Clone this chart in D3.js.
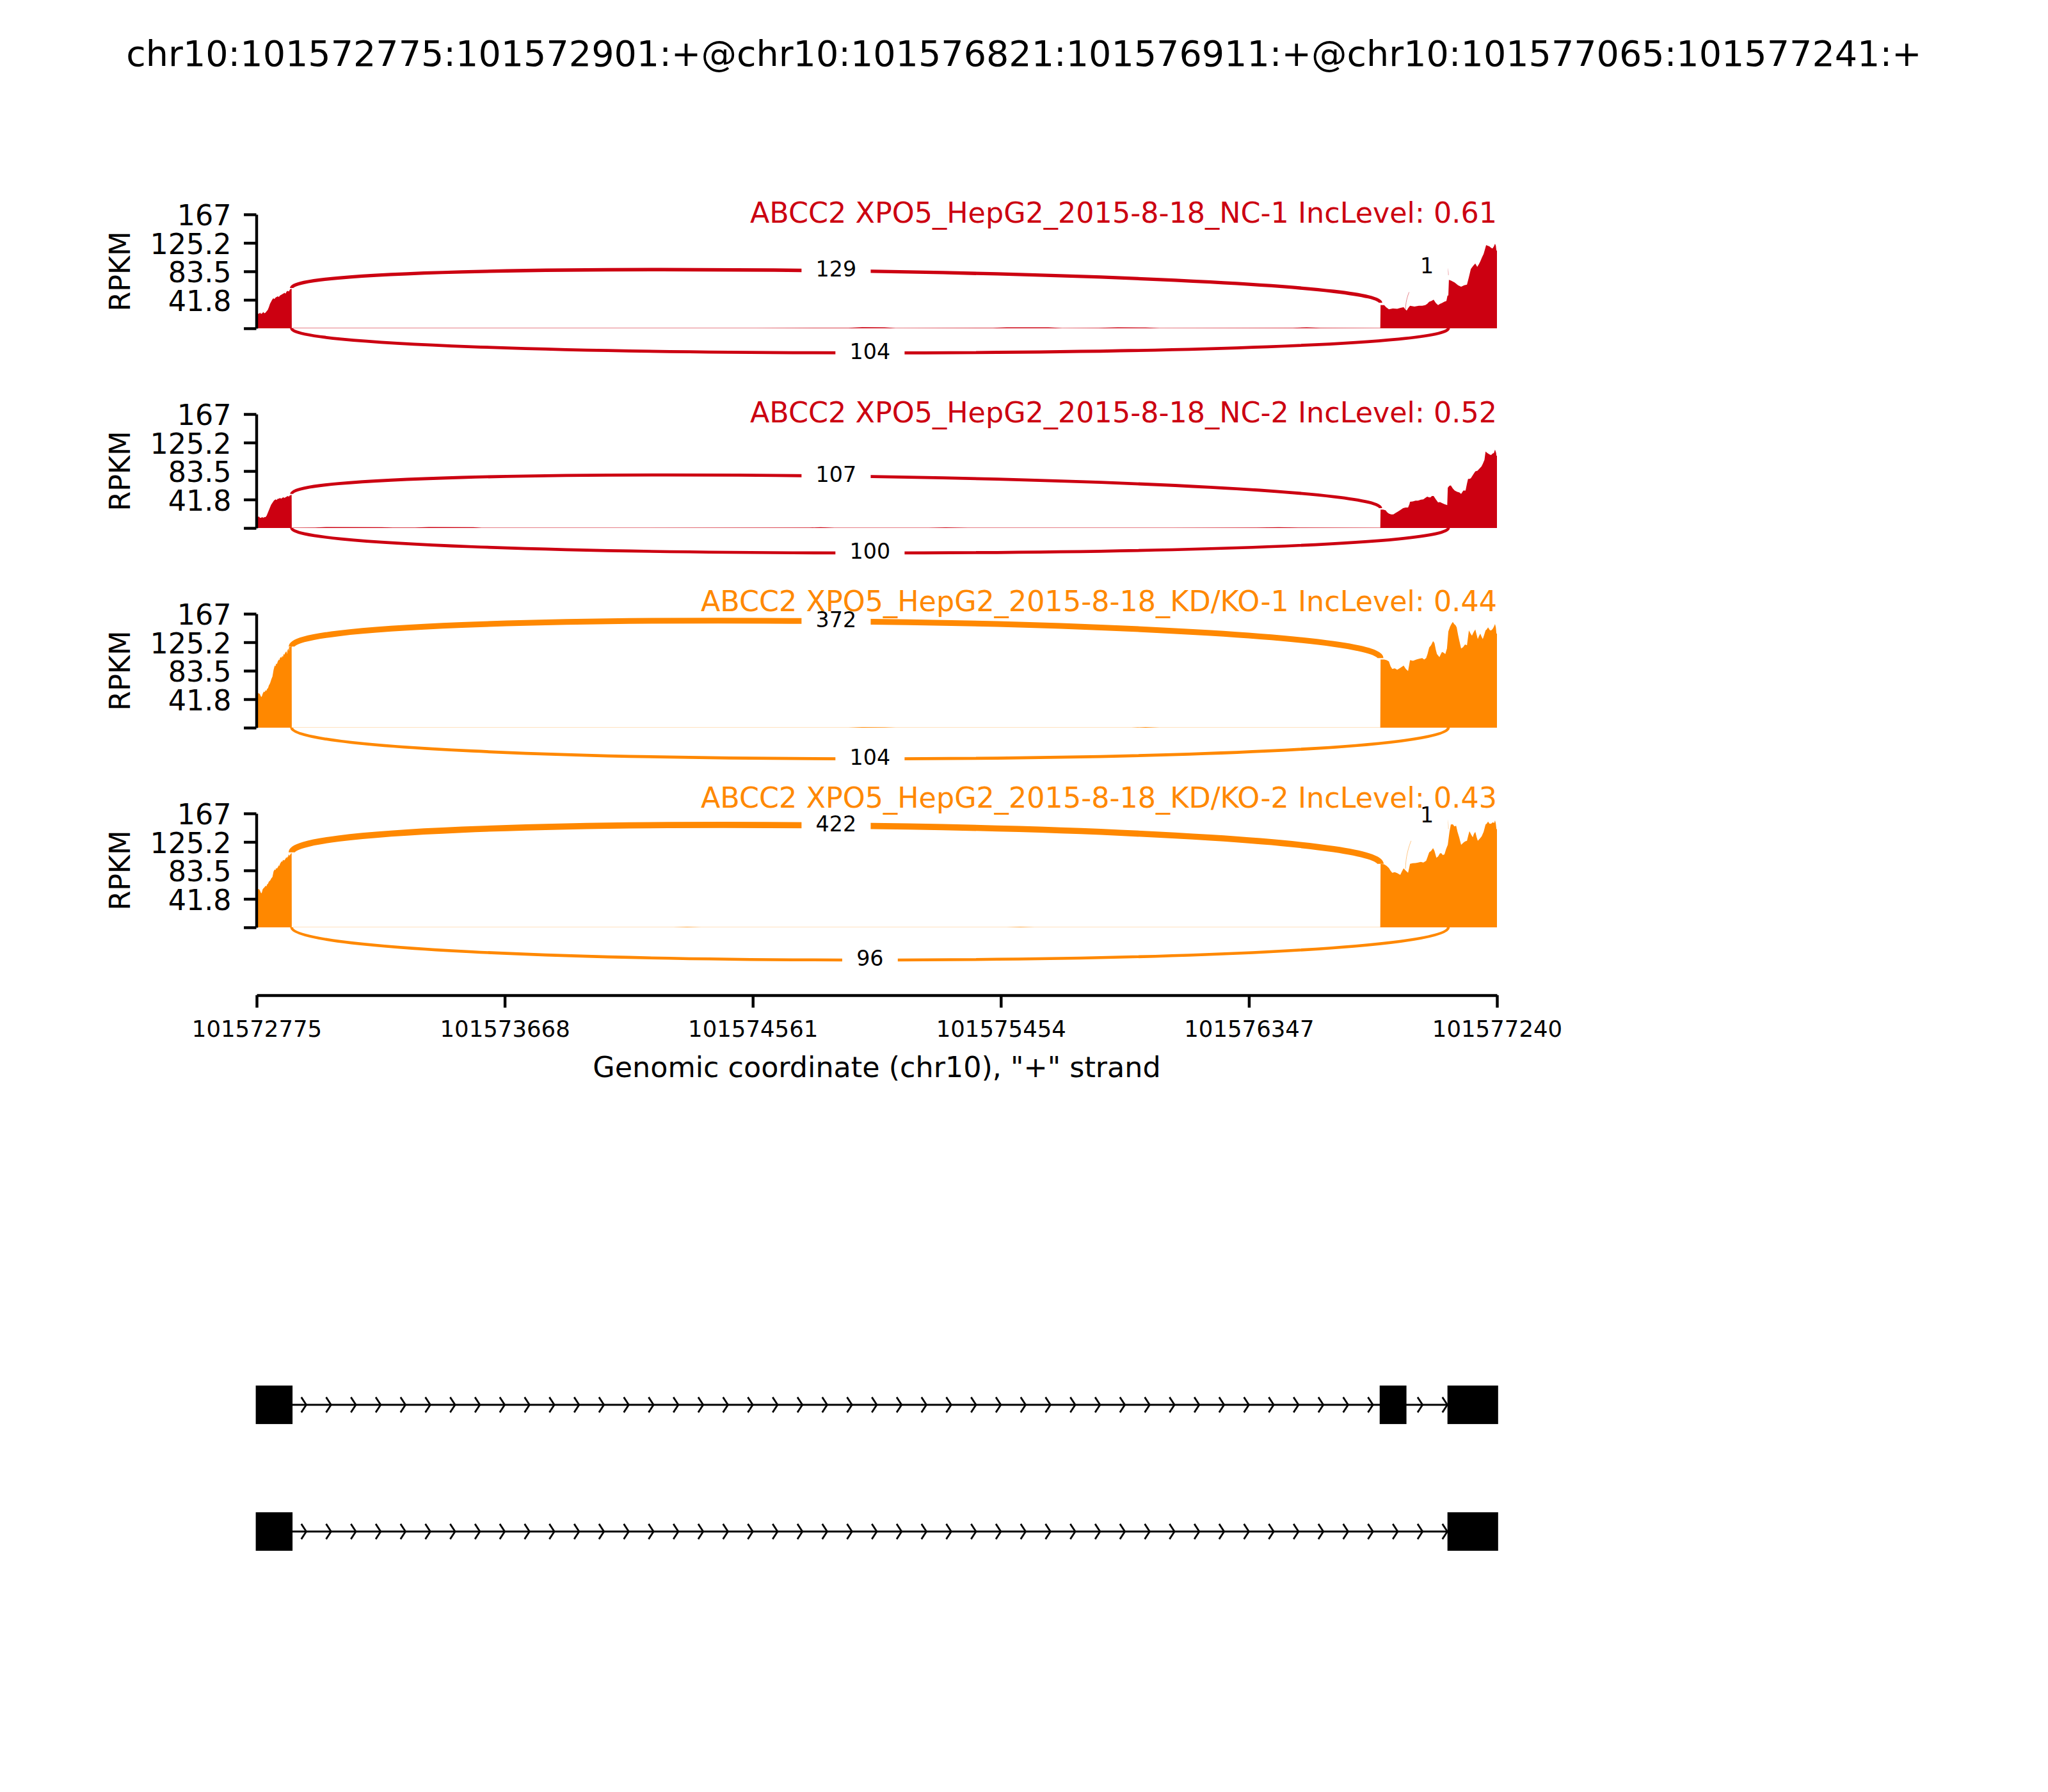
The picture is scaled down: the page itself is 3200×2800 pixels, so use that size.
<!DOCTYPE html>
<html><head><meta charset="utf-8">
<script src="https://cdn.jsdelivr.net/npm/d3@7"></script>
<style>html,body{margin:0;padding:0;background:#fff;} svg{display:block;font-family:"DejaVu Sans";}</style>
</head><body><svg id="c" width="3200" height="2800"></svg>
<script>
// ---------------- DATA ----------------
const eventTitle = "chr10:101572775:101572901:+@chr10:101576821:101576911:+@chr10:101577065:101577241:+";
const xAxisLabel = 'Genomic coordinate (chr10), "+" strand';
const regionStart = 101572775, regionEnd = 101577240;
const sampleNames = ["ABCC2 XPO5_HepG2_2015-8-18_NC-1", "ABCC2 XPO5_HepG2_2015-8-18_NC-2",
                     "ABCC2 XPO5_HepG2_2015-8-18_KD/KO-1", "ABCC2 XPO5_HepG2_2015-8-18_KD/KO-2"];
const incLevels = [0.61, 0.52, 0.44, 0.43];
const sampleGroups = ["NC", "NC", "KD", "KD"];
const yMax = 167;
const yTickValues = [0, 41.75, 83.5, 125.25, 167];
const yTickLabels = ["", "41.8", "83.5", "125.2", "167"];
const yMins = [-64, -65, -81, -85];           // lower y bound of each sample (sets arc height)
const xTickValues = [101572775, 101573668, 101574561, 101575454, 101576347, 101577240];
const isoform1Exons = [[101572775, 101572901], [101576821, 101576911], [101577065, 101577241]];
const isoform2Exons = [[101572775, 101572901], [101577065, 101577241]];

// coverage: [bp offset from regionStart, RPKM]
const covNC1 = [[0,20],[4,22],[8,21],[12,23],[16,21],[20,22],[24,24],[28,22],[32,23],[36,25],[40,27],[44,31],[48,36],[52,39],[56,42],[60,44],[64,43],[68,45],[72,46],[76,47],[80,46],[84,48],[88,49],[92,50],[96,51],[100,52],[104,51],[108,54],[112,55],[116,54],[120,57],[124,58],[126,58],
  [126.5,0.5],[600,0.4],[1200,0.5],[1800,0.5],[2130,0.8],[2180,1.6],[2260,1.4],[2300,0.5],[2650,0.8],[2700,1.5],[2850,1.3],[2900,0.5],[3030,0.7],[3100,1.3],[3200,1.1],[3250,0.5],[3730,0.8],[3780,1.3],[3830,0.6],[4045,0.5],
  [4046,34],[4059,34],[4066,31],[4076,28],[4090,29],[4106,28.5],[4118,30],[4129,31],[4135,28],[4140,26],[4146,30],[4152,33],[4168,32],[4184,33],[4196,33],[4207,34],[4214,36],[4221,39],[4229,40],[4237,42],[4245,37],[4253,34],[4260,36],[4267,37],[4275,39],[4283,40],[4287,48],[4290,48],[4292,71],[4300,70],[4313,67],[4325,63],[4336,61],[4347,63],[4357,64],[4364,75],[4371,87],[4380,92],[4387,95],[4394,90],[4400,94],[4405,98],[4411,104],[4417,109],[4422,116],[4426,122],[4432,121],[4438,120],[4444,118],[4449,117],[4454,120],[4458,124],[4461,121],[4463,114],[4465,114]];
const covNC2 = [[0,17],[4,16],[8,17],[12,15],[16,15],[20,16],[24,15],[28,16],[32,16],[36,18],[40,22],[44,26],[48,30],[52,34],[57,37],[62,40],[68,42],[72,41],[76,43],[80,43],[84,44],[88,43],[92,44],[96,45],[100,44],[104,45],[108,46],[112,47],[116,46],[120,48],[124,48],[126,49],
  [126.5,0.5],[210,0.6],[250,1.3],[450,1.2],[490,0.6],[570,0.6],[620,1.3],[780,1.2],[810,0.5],[1300,0.4],[1990,0.6],[2030,1.2],[2080,0.5],[2420,0.5],[2480,1.0],[2560,0.5],[3300,0.4],[3600,0.6],[3680,1.2],[3750,0.6],[4045,0.5],
  [4046,27],[4055,27],[4064,26],[4070,23],[4076,21],[4084,20],[4092,20],[4100,22],[4106,23.5],[4116,26],[4127,29],[4136,30],[4145,30],[4150,35],[4152,38.5],[4162,39],[4172,40],[4181,40],[4191,41.6],[4200,42],[4207,44],[4214,46],[4220,45],[4225,44.7],[4231,47],[4237,47],[4245,42],[4253,37.5],[4260,38],[4267,36.6],[4276,35],[4286,33.5],[4288,59],[4294,62],[4299,62.5],[4306,58],[4313,55],[4322,53],[4330,52],[4336,50],[4344,55],[4352,55],[4357,65],[4361,72],[4366,72],[4371,73],[4379,78],[4387,83],[4395,84],[4403,87.5],[4409,90],[4414,94],[4420,100],[4424,112],[4430,110],[4438,108],[4444,107],[4449,109],[4454,110],[4458,115],[4462,110],[4463,106],[4465,106]];
const covKD1 = [[0,49],[5,51],[8,50],[11,50],[15,46],[18,45],[22,50],[26,53],[29,52],[32,55],[35,54],[38,57],[41,58],[44,62],[47,64],[49,66],[53,71],[57,75],[61,85],[65,91],[68,90],[70,94],[73,93],[76,97],[80,100],[82,99],[84,102],[88,104],[90,102],[92,105],[95,104],[97,108],[100,107],[103,110],[107,112],[109,108],[111,113],[114,116],[116,112],[117,119],[121,118],[124,121],[126,120],
  [126.5,0.3],[2130,0.3],[2180,0.9],[2260,0.8],[2300,0.3],[3150,0.3],[3200,0.9],[3250,0.3],[4045,0.3],
  [4046,100],[4059,100],[4068,99],[4076,97],[4082,90],[4088,86],[4097,87],[4106,85],[4118,88],[4129,91],[4137,86],[4145,83],[4149,92],[4152,99],[4163,98],[4175,100],[4185,101],[4196,102],[4203,100],[4210,102],[4215,108],[4221,117.5],[4228,121],[4235,127],[4240,124],[4245,114],[4249,108],[4258,103.5],[4263,108],[4267,111],[4273,110],[4279,108],[4285,116],[4290,141],[4296,148],[4301,152],[4306,155],[4311,152],[4316,150],[4320,147],[4325,136],[4329,128.5],[4336,116],[4343,118],[4350,122],[4357,120.7],[4360,130],[4364,142.6],[4370,138],[4375,134.8],[4381,140],[4387,144],[4392,136],[4396,130],[4400,134],[4405,138],[4410,133],[4414,130],[4419,136],[4424,142.6],[4428,144],[4433,147],[4440,142.6],[4446,143],[4451,145.7],[4455,149],[4458,152],[4461,147],[4463,138],[4465,138]];
const covKD2 = [[0,57],[5,56],[8,56],[11,55],[15,51],[18,50],[22,56],[26,58],[29,59],[32,61],[35,60],[38,63],[41,64],[44,67],[47,68],[49,69],[53,72],[57,74],[61,82],[65,85],[68,84],[70,87],[73,86],[76,88],[80,91],[82,90],[84,93],[87,95],[90,97],[92,96],[95,99],[99,98],[103,100],[107,103],[109,101],[111,104],[113,103],[115,107],[118,105],[120,106],[123,108],[126,109],
  [126.5,0.3],[1500,0.3],[1550,0.7],[1600,0.3],[2700,0.3],[2750,0.7],[2800,0.3],[4045,0.3],
  [4046,93],[4059,92.5],[4068,90],[4076,87],[4082,83],[4088,80],[4097,81],[4106,79.5],[4112,78],[4117,77],[4123,82],[4129,86.6],[4137,83],[4145,80],[4149,87],[4152,93],[4162,94],[4172,94.4],[4181,95],[4191,96],[4200,95],[4210,97.5],[4215,103],[4221,110],[4228,112],[4235,116],[4240,112],[4247,102],[4253,104],[4260,108.5],[4265,108.5],[4270,106],[4276,107],[4282,115],[4288,121],[4294,140],[4299,150.7],[4306,151],[4312,148],[4318,149],[4323,140],[4329,132],[4336,121],[4344,124],[4350,126],[4357,127],[4362,135],[4366,141],[4372,136],[4378,132],[4382,137],[4387,140],[4392,132],[4396,127],[4403,130],[4410,133.5],[4417,140],[4424,150.7],[4428,152],[4433,155],[4438,152],[4444,152],[4450,154],[4455,153],[4458,157],[4461,152],[4463,144],[4465,144]];

// junctions: splice sites, read counts, side, density at arc ends (RPKM)
const jxnNC1 = [{start:101572901, end:101576821, count:129, side:"top", leftDens:59, rightDens:37.5},
                {start:101576911, end:101577065, count:1, side:"top", leftDens:28, rightDens:78},
                {start:101572901, end:101577065, count:104, side:"bottom"}];
const jxnNC2 = [{start:101572901, end:101576821, count:107, side:"top", leftDens:50, rightDens:29},
                {start:101572901, end:101577065, count:100, side:"bottom"}];
const jxnKD1 = [{start:101572901, end:101576821, count:372, side:"top", leftDens:119, rightDens:102},
                {start:101572901, end:101577065, count:104, side:"bottom"}];
const jxnKD2 = [{start:101572901, end:101576821, count:422, side:"top", leftDens:110, rightDens:93},
                {start:101576911, end:101577065, count:1, side:"top", leftDens:86, rightDens:144},
                {start:101572901, end:101577065, count:96, side:"bottom"}];

// ---------------- STYLE / LAYOUT ----------------
const groupColors = {NC: "#CC0011", KD: "#FF8800"};
const PT = 400 / 72;                 // px per point
const plotLeft = 401, plotRight = 2339;
const panelBase = [513, 825, 1137, 1449];
const panelH = 178;
const titleLift = [165, 165, 182, 187];
const xAxisY = 1555;
const trackTop = 2195, trackStep = 198;
const nArrows = 50;

const svg = d3.select("#c");
svg.append("rect").attr("width", 3200).attr("height", 2800).attr("fill", "#fff");
svg.append("defs").append("clipPath").attr("id", "plotClip").append("rect")
  .attr("x", plotLeft).attr("y", 0).attr("width", plotRight - plotLeft + 1).attr("height", 2800);

const x = d3.scaleLinear().domain([regionStart, regionEnd]).range([plotLeft, plotRight]);
const widthScale = d3.scaleSqrt().domain([0, 422]).range([0, 9.6]);

svg.append("text").attr("x", 1600).attr("y", 103).attr("text-anchor", "middle")
  .attr("font-size", 10 * PT).text(eventTitle);

const covs = [covNC1, covNC2, covKD1, covKD2];
const jxns = [jxnNC1, jxnNC2, jxnKD1, jxnKD2];

const labelLayer = [];
const titleLayer = [];
sampleNames.forEach((name, i) => {
  const base = panelBase[i];
  const color = groupColors[sampleGroups[i]];
  const y = d3.scaleLinear().domain([0, yMax]).range([base, base - panelH]);
  const g = svg.append("g");

  // coverage
  g.append("path").datum(covs[i])
    .attr("d", d3.area().x(d => x(regionStart + d[0])).y0(y(0)).y1(d => y(d[1])))
    .attr("fill", color);

  // y axis
  const ax = g.append("g").attr("transform", `translate(${plotLeft - 0.5},0)`)
    .call(d3.axisLeft(y).tickValues(yTickValues).tickFormat((d, j) => yTickLabels[j])
      .tickSize(3.5 * PT).tickPadding(3.5 * PT).tickSizeOuter(0));
  ax.attr("font-family", null).attr("font-size", null);
  ax.selectAll("path,line").attr("stroke", "#000").attr("stroke-width", 0.8 * PT);
  ax.selectAll("text").attr("font-size", 8 * PT).attr("dy", "0.38em").attr("fill", "#000");

  g.append("text")
    .attr("transform", `translate(203,${(y(0) + y(yMax)) / 2}) rotate(-90)`)
    .attr("text-anchor", "middle").attr("font-size", 8 * PT).text("RPKM");

  titleLayer.push({g, base, color, text: `${name} IncLevel: ${incLevels[i]}`, lift: titleLift[i]});

  // junction arcs
  const h = -0.75 * yMins[i];
  jxns[i].forEach(j => {
    const x1 = x(j.start), x2 = x(j.end);
    let d, ly;
    if (j.side === "top") {
      d = `M${x1},${y(j.leftDens)}C${x1},${y(j.leftDens + h)} ${x2},${y(j.rightDens + h)} ${x2},${y(j.rightDens)}`;
      ly = y((j.leftDens + j.rightDens) / 2 + 0.75 * h);
    } else {
      d = `M${x1},${y(0)}C${x1},${y(-h)} ${x2},${y(-h)} ${x2},${y(0)}`;
      ly = y(-0.75 * h);
    }
    const lx = (x1 + x2) / 2;
    g.append("path").attr("d", d).attr("fill", "none").attr("stroke", color)
      .attr("stroke-width", widthScale(j.count));
    labelLayer.push({g, lx, ly, count: j.count});
  });
});

// junction labels with white boxes (above arcs)
labelLayer.forEach(L => {
  const fs = 6 * PT, pad = 4 * PT;
  const lg = L.g.append("g");
  const rect = lg.append("rect").attr("fill", "#fff");
  const t = lg.append("text").attr("x", L.lx).attr("y", L.ly + 0.276 * fs)
    .attr("text-anchor", "middle").attr("font-size", fs).text(L.count);
  const w = t.node().getComputedTextLength();
  const bh = 0.968 * fs + 2 * pad;
  rect.attr("x", L.lx - w / 2 - pad).attr("y", L.ly - bh / 2).attr("width", w + 2 * pad).attr("height", bh);
});

// sample titles drawn last (on top of label boxes)
titleLayer.forEach(T => {
  T.g.append("text").attr("x", plotRight).attr("y", T.base - T.lift)
    .attr("text-anchor", "end").attr("font-size", 8 * PT).attr("fill", T.color).text(T.text);
});

// x axis
const xa = svg.append("g").attr("transform", `translate(0,${xAxisY})`)
  .call(d3.axisBottom(x).tickValues(xTickValues).tickFormat(d3.format("d"))
    .tickSize(3.5 * PT).tickSizeOuter(0));
xa.attr("font-family", null).attr("font-size", null);
xa.selectAll("path,line").attr("stroke", "#000").attr("stroke-width", 0.8 * PT);
xa.selectAll("text").attr("font-size", 35.5).attr("y", 65).attr("dy", 0).attr("fill", "#000");
svg.append("text").attr("x", (plotLeft + plotRight) / 2).attr("y", 1683).attr("text-anchor", "middle")
  .attr("font-size", 8 * PT).text(xAxisLabel);

// gene tracks
const gy = d3.scaleLinear().domain([0, 1]).range([trackTop, trackTop + trackStep]);
const span = regionEnd - regionStart;
[isoform1Exons, isoform2Exons].forEach((exons, k) => {
  const tg = svg.append("g");
  const cy = gy(k);
  tg.append("line").attr("x1", x(regionStart)).attr("x2", x(regionEnd)).attr("y1", cy).attr("y2", cy)
    .attr("stroke", "#000").attr("stroke-width", 0.5 * PT);
  const spread = 0.2 * span / nArrows;
  const arrows = tg.append("g").attr("clip-path", "url(#plotClip)");
  d3.range(nArrows).forEach(a => {
    const loc = regionStart + a * span / nArrows;
    arrows.append("path")
      .attr("d", `M${x(loc - spread)},${gy(k - 0.06)}L${x(loc)},${cy}L${x(loc - spread)},${gy(k + 0.06)}`)
      .attr("fill", "none").attr("stroke", "#000").attr("stroke-width", 0.5 * PT);
  });
  exons.forEach(([s, e]) => {
    tg.append("rect").attr("x", x(s)).attr("width", x(e) - x(s))
      .attr("y", gy(k - 0.145)).attr("height", gy(k + 0.145) - gy(k - 0.145))
      .attr("fill", "#000").attr("stroke", "#000").attr("stroke-width", 0.5 * PT);
  });
});
</script></body></html>
